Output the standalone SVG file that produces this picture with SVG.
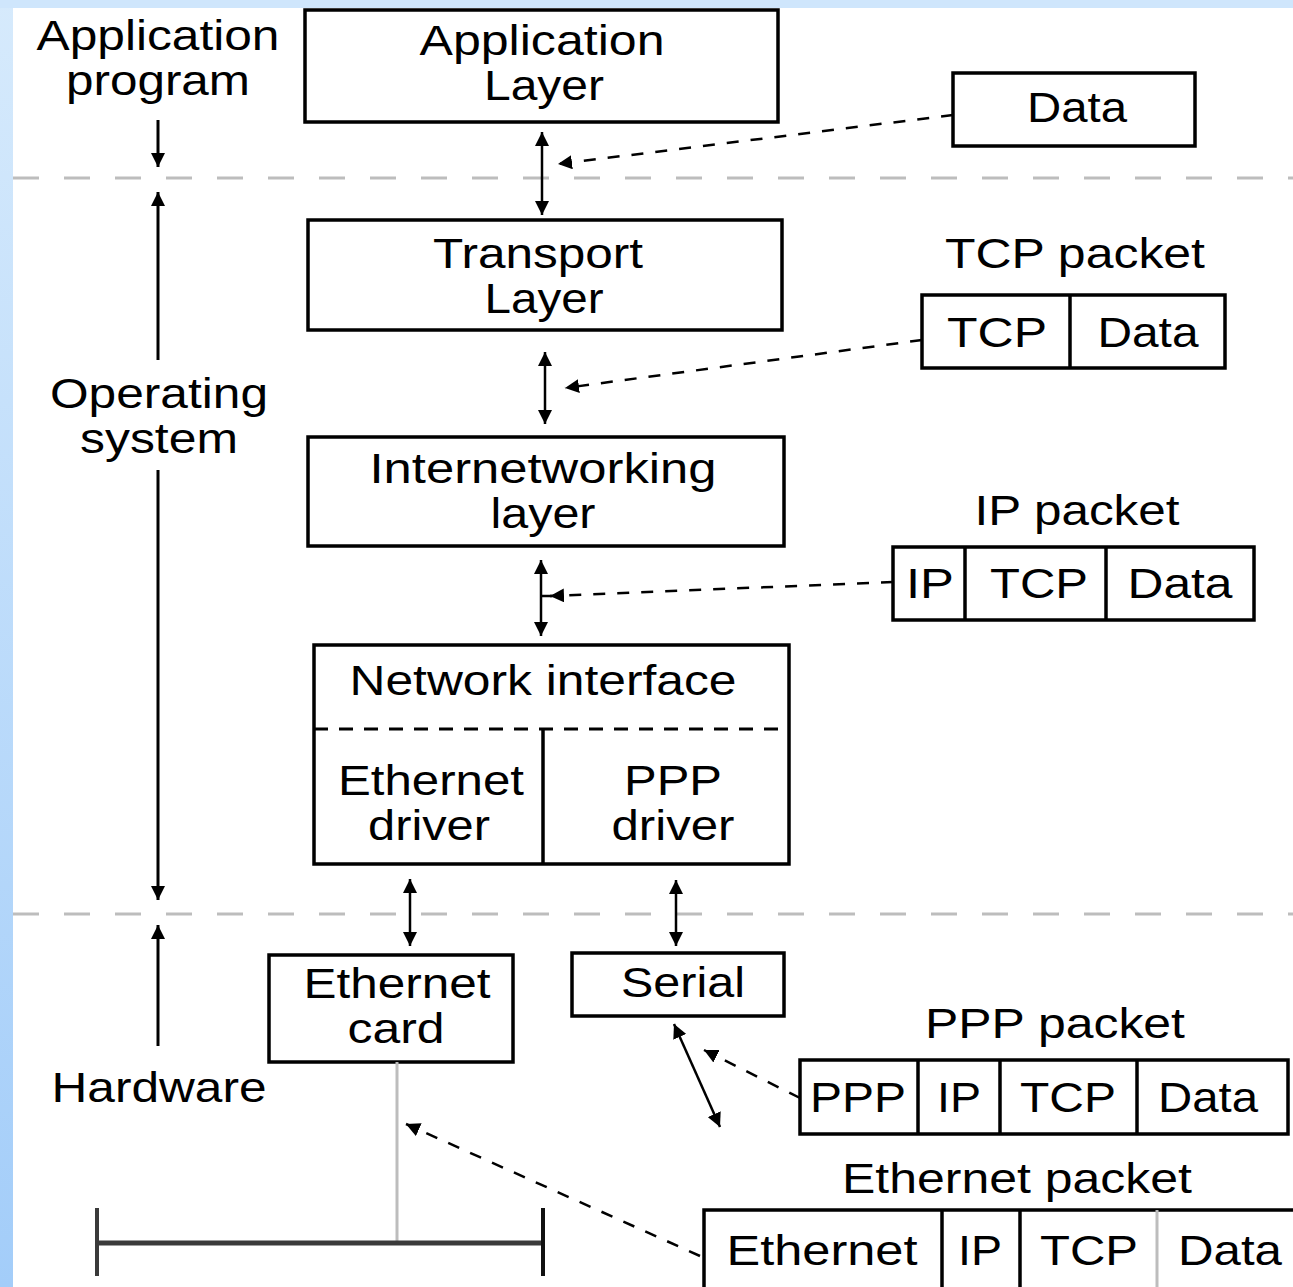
<svg xmlns="http://www.w3.org/2000/svg" width="1293" height="1287" viewBox="0 0 1293 1287">
<style>
.t{font-family:"Liberation Sans",Arial,sans-serif;font-size:42px;fill:#000;text-anchor:middle}
.box{fill:#fff;stroke:#000;stroke-width:3.5}
.div{stroke:#000;stroke-width:3.5}
.sep{stroke:#bdbdbd;stroke-width:3;stroke-dasharray:26 25;fill:none}
.dbl{stroke:#000;stroke-width:2.5;fill:none;marker-start:url(#ah);marker-end:url(#ah)}
.one{stroke:#000;stroke-width:3;fill:none;marker-end:url(#ah)}
.dsh{stroke:#000;stroke-width:2.5;stroke-dasharray:12 12;fill:none;marker-end:url(#ah)}
</style>
<defs>
<linearGradient id="bg" x1="0" y1="0" x2="0" y2="1">
<stop offset="0" stop-color="#d6eafc"/>
<stop offset="1" stop-color="#a3cdf9"/>
</linearGradient>
<marker id="ah" markerUnits="userSpaceOnUse" markerWidth="16" markerHeight="14" refX="14" refY="7" orient="auto-start-reverse">
<path d="M0,0 L14,7 L0,14 Z" fill="#000"/>
</marker>
</defs>
<rect x="0" y="0" width="1293" height="1287" fill="url(#bg)"/>
<rect x="0" y="0" width="1293" height="8" fill="#cfe6fc"/>
<rect x="13" y="8" width="1280" height="1279" fill="#fff"/>

<g id="separators">
<line class="sep" x1="13" y1="178" x2="1293" y2="178"/>
<line class="sep" x1="13" y1="914" x2="1293" y2="914"/>
</g>

<g id="side-labels">
<text class="t" x="158" y="50" textLength="243" lengthAdjust="spacingAndGlyphs">Application</text>
<text class="t" x="158" y="95" textLength="184" lengthAdjust="spacingAndGlyphs">program</text>
<text class="t" x="159" y="408" textLength="218" lengthAdjust="spacingAndGlyphs">Operating</text>
<text class="t" x="159" y="453" textLength="158" lengthAdjust="spacingAndGlyphs">system</text>
<text class="t" x="159" y="1102" textLength="215" lengthAdjust="spacingAndGlyphs">Hardware</text>
</g>

<g id="app-layer">
<rect class="box" x="305" y="10" width="473" height="112"/>
<text class="t" x="542" y="55" textLength="245" lengthAdjust="spacingAndGlyphs">Application</text>
<text class="t" x="544" y="100" textLength="120" lengthAdjust="spacingAndGlyphs">Layer</text>
</g>

<g id="data-box">
<rect class="box" x="953" y="73" width="242" height="73"/>
<text class="t" x="1077" y="122" textLength="100" lengthAdjust="spacingAndGlyphs">Data</text>
</g>

<g id="transport-layer">
<rect class="box" x="308" y="220" width="474" height="110"/>
<text class="t" x="538" y="268" textLength="210" lengthAdjust="spacingAndGlyphs">Transport</text>
<text class="t" x="544" y="313" textLength="119" lengthAdjust="spacingAndGlyphs">Layer</text>
</g>

<g id="tcp-packet">
<text class="t" x="1075" y="268" textLength="260" lengthAdjust="spacingAndGlyphs">TCP packet</text>
<rect class="box" x="922" y="295" width="303" height="73"/>
<line class="div" x1="1070" y1="295" x2="1070" y2="368"/>
<text class="t" x="997" y="347" textLength="100" lengthAdjust="spacingAndGlyphs">TCP</text>
<text class="t" x="1148" y="347" textLength="101" lengthAdjust="spacingAndGlyphs">Data</text>
</g>

<g id="internetworking-layer">
<rect class="box" x="308" y="437" width="476" height="109"/>
<text class="t" x="543" y="483" textLength="347" lengthAdjust="spacingAndGlyphs">Internetworking</text>
<text class="t" x="543" y="528" textLength="105" lengthAdjust="spacingAndGlyphs">layer</text>
</g>

<g id="ip-packet">
<text class="t" x="1077" y="525" textLength="205" lengthAdjust="spacingAndGlyphs">IP packet</text>
<rect class="box" x="893" y="547" width="361" height="73"/>
<line class="div" x1="965" y1="547" x2="965" y2="620"/>
<line class="div" x1="1106" y1="547" x2="1106" y2="620"/>
<text class="t" x="930" y="598" textLength="48" lengthAdjust="spacingAndGlyphs">IP</text>
<text class="t" x="1039" y="598" textLength="98" lengthAdjust="spacingAndGlyphs">TCP</text>
<text class="t" x="1180" y="598" textLength="105" lengthAdjust="spacingAndGlyphs">Data</text>
</g>

<g id="network-interface">
<rect class="box" x="314" y="645" width="475" height="219"/>
<line x1="314" y1="729" x2="789" y2="729" stroke="#000" stroke-width="3" stroke-dasharray="14 11"/>
<line class="div" x1="543" y1="729" x2="543" y2="864"/>
<text class="t" x="543" y="695" textLength="387" lengthAdjust="spacingAndGlyphs">Network interface</text>
<text class="t" x="431" y="795" textLength="186" lengthAdjust="spacingAndGlyphs">Ethernet</text>
<text class="t" x="429" y="840" textLength="122" lengthAdjust="spacingAndGlyphs">driver</text>
<text class="t" x="673" y="795" textLength="98" lengthAdjust="spacingAndGlyphs">PPP</text>
<text class="t" x="673" y="840" textLength="123" lengthAdjust="spacingAndGlyphs">driver</text>
</g>

<g id="ethernet-card">
<rect class="box" x="269" y="955" width="244" height="107"/>
<text class="t" x="397" y="998" textLength="187" lengthAdjust="spacingAndGlyphs">Ethernet</text>
<text class="t" x="396" y="1043" textLength="97" lengthAdjust="spacingAndGlyphs">card</text>
</g>

<g id="serial">
<rect class="box" x="572" y="953" width="212" height="63"/>
<text class="t" x="683" y="997" textLength="124" lengthAdjust="spacingAndGlyphs">Serial</text>
</g>

<g id="ppp-packet">
<text class="t" x="1055" y="1038" textLength="260" lengthAdjust="spacingAndGlyphs">PPP packet</text>
<rect class="box" x="800" y="1060" width="488" height="74"/>
<line class="div" x1="918" y1="1060" x2="918" y2="1134"/>
<line class="div" x1="1000" y1="1060" x2="1000" y2="1134"/>
<line class="div" x1="1137" y1="1060" x2="1137" y2="1134"/>
<text class="t" x="858" y="1112" textLength="96" lengthAdjust="spacingAndGlyphs">PPP</text>
<text class="t" x="959" y="1112" textLength="44" lengthAdjust="spacingAndGlyphs">IP</text>
<text class="t" x="1068" y="1112" textLength="96" lengthAdjust="spacingAndGlyphs">TCP</text>
<text class="t" x="1208" y="1112" textLength="100" lengthAdjust="spacingAndGlyphs">Data</text>
</g>

<g id="ethernet-packet">
<text class="t" x="1017" y="1193" textLength="350" lengthAdjust="spacingAndGlyphs">Ethernet packet</text>
<rect class="box" x="704" y="1210" width="600" height="90"/>
<line class="div" x1="942" y1="1210" x2="942" y2="1287"/>
<line class="div" x1="1020" y1="1210" x2="1020" y2="1287"/>
<line x1="1157" y1="1210" x2="1157" y2="1287" stroke="#bdbdbd" stroke-width="3"/>
<text class="t" x="822" y="1265" textLength="191" lengthAdjust="spacingAndGlyphs">Ethernet</text>
<text class="t" x="980" y="1265" textLength="44" lengthAdjust="spacingAndGlyphs">IP</text>
<text class="t" x="1089" y="1265" textLength="98" lengthAdjust="spacingAndGlyphs">TCP</text>
<text class="t" x="1230" y="1265" textLength="104" lengthAdjust="spacingAndGlyphs">Data</text>
</g>

<g id="bus">
<line x1="397" y1="1062" x2="397" y2="1243" stroke="#bdbdbd" stroke-width="3"/>
<line x1="97" y1="1243" x2="543" y2="1243" stroke="#3a3a3a" stroke-width="5"/>
<line x1="97" y1="1208" x2="97" y2="1276" stroke="#3a3a3a" stroke-width="4"/>
<line x1="543" y1="1208" x2="543" y2="1276" stroke="#111" stroke-width="4"/>
</g>

<g id="connectors">
<line class="one" x1="158" y1="120" x2="158" y2="167"/>
<line class="one" x1="158" y1="360" x2="158" y2="192"/>
<line class="one" x1="158" y1="470" x2="158" y2="900"/>
<line class="one" x1="158" y1="1046" x2="158" y2="925"/>
<line class="dbl" x1="542" y1="132" x2="542" y2="215"/>
<line class="dbl" x1="545" y1="352" x2="545" y2="424"/>
<line class="dbl" x1="541" y1="560" x2="541" y2="636"/>
<line x1="541" y1="596" x2="552" y2="596" stroke="#000" stroke-width="2.5"/>
<line class="dbl" x1="410" y1="879" x2="410" y2="946"/>
<line class="dbl" x1="676" y1="880" x2="676" y2="946"/>
<line class="dbl" x1="674" y1="1024" x2="720" y2="1127"/>
<path class="dsh" d="M953,115 L558,164"/>
<path class="dsh" d="M922,340 L565,388"/>
<path class="dsh" d="M893,582 L550,596"/>
<path class="dsh" d="M800,1098 L704,1050"/>
<path class="dsh" d="M700,1256 L406,1124"/>
</g>
</svg>
